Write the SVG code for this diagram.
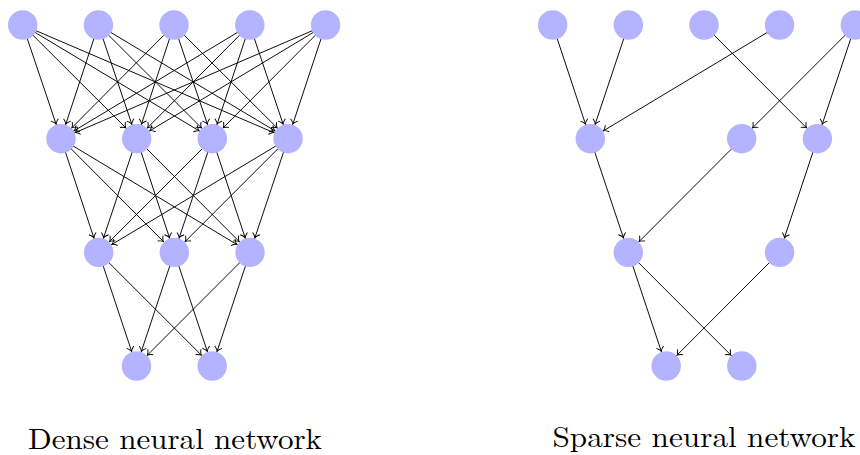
<svg xmlns="http://www.w3.org/2000/svg" width="860" height="455" viewBox="0 0 860 455">
<style>
.n{fill:#b3b3ff;}
.e line{stroke:#000;stroke-width:0.95;marker-end:url(#arr);}
.lbl{font-family:"Latin Modern Roman","CMU Serif","Liberation Serif",serif;font-size:29px;fill:#000;text-anchor:middle;}
</style>
<defs>
<marker id="arr" markerUnits="userSpaceOnUse" markerWidth="40" markerHeight="40" refX="15.6" refY="0" orient="auto" overflow="visible" viewBox="-20 -20 40 40">
<path d="M-4.2,-3.8 C-2.6,-1.6 -0.8,-0.4 0,0 C-0.8,0.4 -2.6,1.6 -4.2,3.8" fill="none" stroke="#000" stroke-width="0.95"/>
</marker>
</defs>
<rect width="860" height="455" fill="#fff"/>
<g id="connectors" class="e">
<!-- dense L1->L2 -->
<line x1="22.7" y1="25" x2="61" y2="138.7"/><line x1="22.7" y1="25" x2="136.7" y2="138.7"/><line x1="22.7" y1="25" x2="212.3" y2="138.7"/><line x1="22.7" y1="25" x2="288" y2="138.7"/>
<line x1="98.4" y1="25" x2="61" y2="138.7"/><line x1="98.4" y1="25" x2="136.7" y2="138.7"/><line x1="98.4" y1="25" x2="212.3" y2="138.7"/><line x1="98.4" y1="25" x2="288" y2="138.7"/>
<line x1="174" y1="25" x2="61" y2="138.7"/><line x1="174" y1="25" x2="136.7" y2="138.7"/><line x1="174" y1="25" x2="212.3" y2="138.7"/><line x1="174" y1="25" x2="288" y2="138.7"/>
<line x1="249.8" y1="25" x2="61" y2="138.7"/><line x1="249.8" y1="25" x2="136.7" y2="138.7"/><line x1="249.8" y1="25" x2="212.3" y2="138.7"/><line x1="249.8" y1="25" x2="288" y2="138.7"/>
<line x1="325.6" y1="25" x2="61" y2="138.7"/><line x1="325.6" y1="25" x2="136.7" y2="138.7"/><line x1="325.6" y1="25" x2="212.3" y2="138.7"/><line x1="325.6" y1="25" x2="288" y2="138.7"/>
<!-- dense L2->L3 -->
<line x1="61" y1="138.7" x2="98.7" y2="252.4"/><line x1="61" y1="138.7" x2="174.3" y2="252.4"/><line x1="61" y1="138.7" x2="250" y2="252.4"/>
<line x1="136.7" y1="138.7" x2="98.7" y2="252.4"/><line x1="136.7" y1="138.7" x2="174.3" y2="252.4"/><line x1="136.7" y1="138.7" x2="250" y2="252.4"/>
<line x1="212.3" y1="138.7" x2="98.7" y2="252.4"/><line x1="212.3" y1="138.7" x2="174.3" y2="252.4"/><line x1="212.3" y1="138.7" x2="250" y2="252.4"/>
<line x1="288" y1="138.7" x2="98.7" y2="252.4"/><line x1="288" y1="138.7" x2="174.3" y2="252.4"/><line x1="288" y1="138.7" x2="250" y2="252.4"/>
<!-- dense L3->L4 -->
<line x1="98.7" y1="252.4" x2="136.5" y2="366"/><line x1="98.7" y1="252.4" x2="212.2" y2="366"/>
<line x1="174.3" y1="252.4" x2="136.5" y2="366"/><line x1="174.3" y1="252.4" x2="212.2" y2="366"/>
<line x1="250" y1="252.4" x2="136.5" y2="366"/><line x1="250" y1="252.4" x2="212.2" y2="366"/>
<!-- sparse -->
<line x1="552.7" y1="25" x2="590.3" y2="138.7"/>
<line x1="628.3" y1="25" x2="590.3" y2="138.7"/>
<line x1="779.6" y1="25" x2="590.3" y2="138.7"/>
<line x1="704" y1="25" x2="817.4" y2="138.7"/>
<line x1="855.3" y1="25" x2="741.7" y2="138.7"/>
<line x1="855.3" y1="25" x2="817.4" y2="138.7"/>
<line x1="590.3" y1="138.7" x2="628.3" y2="252.4"/>
<line x1="741.7" y1="138.7" x2="628.3" y2="252.4"/>
<line x1="817.4" y1="138.7" x2="779.6" y2="252.4"/>
<line x1="628.3" y1="252.4" x2="666.2" y2="366"/>
<line x1="628.3" y1="252.4" x2="741.8" y2="366"/>
<line x1="779.6" y1="252.4" x2="666.2" y2="366"/>
</g>
<g id="dense-nodes">
<g id="d1a"><circle class="n" cx="22.7" cy="25" r="14.7"/></g>
<g id="d1b"><circle class="n" cx="98.4" cy="25" r="14.7"/></g>
<g id="d1c"><circle class="n" cx="174" cy="25" r="14.7"/></g>
<g id="d1d"><circle class="n" cx="249.8" cy="25" r="14.7"/></g>
<g id="d1e"><circle class="n" cx="325.6" cy="25" r="14.7"/></g>
<g id="d2a"><circle class="n" cx="61" cy="138.7" r="14.7"/></g>
<g id="d2b"><circle class="n" cx="136.7" cy="138.7" r="14.7"/></g>
<g id="d2c"><circle class="n" cx="212.3" cy="138.7" r="14.7"/></g>
<g id="d2d"><circle class="n" cx="288" cy="138.7" r="14.7"/></g>
<g id="d3a"><circle class="n" cx="98.7" cy="252.4" r="14.7"/></g>
<g id="d3b"><circle class="n" cx="174.3" cy="252.4" r="14.7"/></g>
<g id="d3c"><circle class="n" cx="250" cy="252.4" r="14.7"/></g>
<g id="d4a"><circle class="n" cx="136.5" cy="366" r="14.7"/></g>
<g id="d4b"><circle class="n" cx="212.2" cy="366" r="14.7"/></g>
</g>
<g id="sparse-nodes">
<g id="s1a"><circle class="n" cx="552.7" cy="25" r="14.7"/></g>
<g id="s1b"><circle class="n" cx="628.3" cy="25" r="14.7"/></g>
<g id="s1c"><circle class="n" cx="704" cy="25" r="14.7"/></g>
<g id="s1d"><circle class="n" cx="779.6" cy="25" r="14.7"/></g>
<g id="s1e"><circle class="n" cx="855.3" cy="25" r="14.7"/></g>
<g id="s2a"><circle class="n" cx="590.3" cy="138.7" r="14.7"/></g>
<g id="s2b"><circle class="n" cx="741.7" cy="138.7" r="14.7"/></g>
<g id="s2c"><circle class="n" cx="817.4" cy="138.7" r="14.7"/></g>
<g id="s3a"><circle class="n" cx="628.3" cy="252.4" r="14.7"/></g>
<g id="s3b"><circle class="n" cx="779.6" cy="252.4" r="14.7"/></g>
<g id="s4a"><circle class="n" cx="666.2" cy="366" r="14.7"/></g>
<g id="s4b"><circle class="n" cx="741.8" cy="366" r="14.7"/></g>
</g>
<g id="labels">
<text class="lbl" x="175" y="448.5" textLength="294" lengthAdjust="spacingAndGlyphs">Dense neural network</text>
<text class="lbl" x="704" y="446.5" textLength="303" lengthAdjust="spacingAndGlyphs">Sparse neural network</text>
</g>
</svg>
